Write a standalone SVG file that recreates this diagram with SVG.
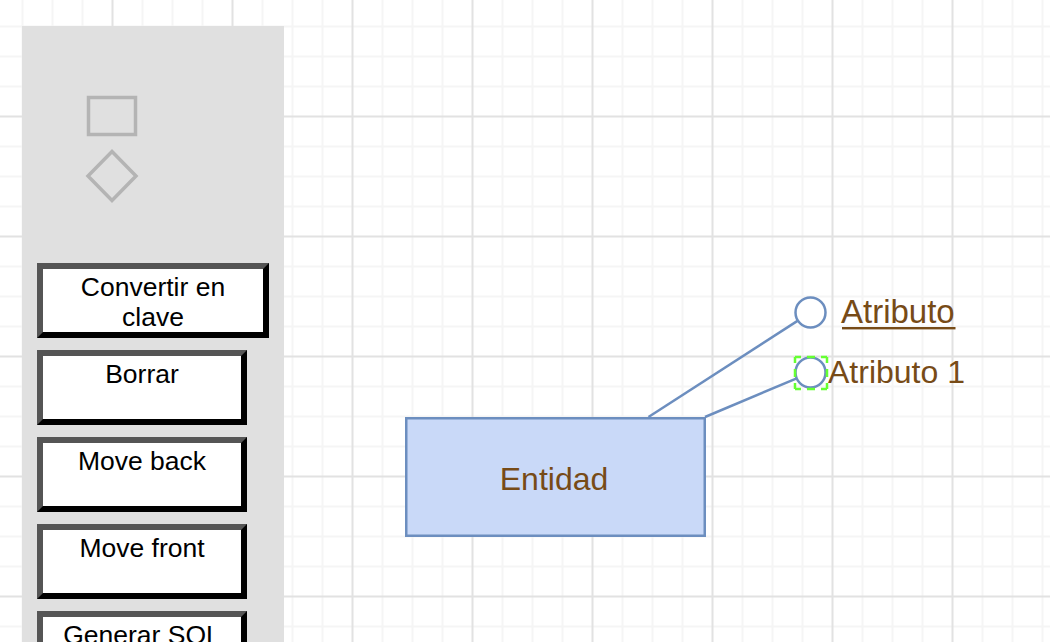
<svg xmlns="http://www.w3.org/2000/svg" width="1050" height="642" viewBox="0 0 1050 642">
<defs>
<style>
.minor{stroke:#f5f5f5;stroke-width:2;fill:none}
.major{stroke:#e2e2e2;stroke-width:2;fill:none}
.btn-dark{fill:#000}
.btn-light{fill:#555}
.btn-face{fill:#fff}
.btn-text{font-family:"Liberation Sans",Arial,sans-serif;font-size:26.5px;fill:#000;text-anchor:middle}
.lbl{font-family:"Liberation Sans",Arial,sans-serif;font-size:32px;fill:#774b17}
.conn{stroke:#6c8ebf;stroke-width:2.5;fill:none}
.attr{fill:#fff;stroke:#6c8ebf;stroke-width:2.5}
.sel{stroke:#66ff33;stroke-width:2.5;fill:none;stroke-dasharray:6 6 8 6 6 200}
.icon{fill:none;stroke:#b4b4b4;stroke-width:3.5}
</style>
</defs>
<rect width="1050" height="642" fill="#fff"/>
<g id="grid">
<path class="minor" d="M22.5 0V642M52.5 0V642M82.5 0V642M142.5 0V642M172.5 0V642M202.5 0V642M262.5 0V642M292.5 0V642M322.5 0V642M382.5 0V642M412.5 0V642M442.5 0V642M502.5 0V642M532.5 0V642M562.5 0V642M622.5 0V642M652.5 0V642M682.5 0V642M742.5 0V642M772.5 0V642M802.5 0V642M862.5 0V642M892.5 0V642M922.5 0V642M982.5 0V642M1012.5 0V642M1042.5 0V642M0 26.5H1050M0 56.5H1050M0 86.5H1050M0 146.5H1050M0 176.5H1050M0 206.5H1050M0 266.5H1050M0 296.5H1050M0 326.5H1050M0 386.5H1050M0 416.5H1050M0 446.5H1050M0 506.5H1050M0 536.5H1050M0 566.5H1050M0 626.5H1050"/>
<path class="major" d="M112.5 0V642M232.5 0V642M352.5 0V642M472.5 0V642M592.5 0V642M712.5 0V642M832.5 0V642M952.5 0V642M0 116.5H1050M0 236.5H1050M0 356.5H1050M0 476.5H1050M0 596.5H1050"/>
</g>
<g id="palette">
<rect x="22" y="26" width="262" height="616" fill="#e0e0e0"/>
<rect id="icon-entity" class="icon" x="88.5" y="97.5" width="47" height="37"/>
<polygon id="icon-relation" class="icon" points="112,151.5 136,176 112,200.5 88,176"/>
</g>
<g id="btn-convertir">
<rect class="btn-dark" x="37" y="263" width="232" height="75"/>
<polygon class="btn-light" points="37,263 269,263 263,269 43,269 43,332 37,338"/>
<rect class="btn-face" x="43" y="269" width="220" height="63"/>
<text class="btn-text" x="153" y="296">Convertir en</text>
<text class="btn-text" x="153" y="326">clave</text>
</g>
<g id="btn-borrar">
<rect class="btn-dark" x="37" y="350" width="210" height="75"/>
<polygon class="btn-light" points="37,350 247,350 241,356 43,356 43,419 37,425"/>
<rect class="btn-face" x="43" y="356" width="198" height="63"/>
<text class="btn-text" x="142" y="383">Borrar</text>
</g>
<g id="btn-move-back">
<rect class="btn-dark" x="37" y="437" width="210" height="75"/>
<polygon class="btn-light" points="37,437 247,437 241,443 43,443 43,506 37,512"/>
<rect class="btn-face" x="43" y="443" width="198" height="63"/>
<text class="btn-text" x="142" y="470">Move back</text>
</g>
<g id="btn-move-front">
<rect class="btn-dark" x="37" y="524" width="210" height="75"/>
<polygon class="btn-light" points="37,524 247,524 241,530 43,530 43,593 37,599"/>
<rect class="btn-face" x="43" y="530" width="198" height="63"/>
<text class="btn-text" x="142" y="557">Move front</text>
</g>
<g id="btn-generar-sql">
<rect class="btn-dark" x="37" y="611" width="210" height="75"/>
<polygon class="btn-light" points="37,611 247,611 241,617 43,617 43,680 37,686"/>
<rect class="btn-face" x="43" y="617" width="198" height="63"/>
<text class="btn-text" x="142" y="644">Generar SQL</text>
</g>
<g id="connectors">
<line class="conn" x1="648.5" y1="417" x2="797.9" y2="320.6"/>
<line class="conn" x1="705" y1="417" x2="796.7" y2="378.3"/>
</g>
<g id="entidad">
<rect x="406.25" y="418.25" width="298.5" height="117.5" fill="#c9d9f8" stroke="#6c8ebf" stroke-width="2.5"/>
<text class="lbl" x="554" y="489.5" text-anchor="middle">Entidad</text>
</g>
<g id="atributo">
<circle class="attr" cx="810.5" cy="312.5" r="15"/>
<text class="lbl" x="841" y="323" style="font-size:33px">Atributo</text>
<rect x="842" y="327" width="113.5" height="2.4" fill="#774b17"/>
</g>
<g id="atributo-1">
<circle class="attr" cx="810.5" cy="372.5" r="15"/>
<path class="sel" d="M795 357H827"/>
<path class="sel" d="M827 357V389"/>
<path class="sel" d="M827 389H795"/>
<path class="sel" d="M795 389V357"/>
<text class="lbl" x="828" y="383">Atributo 1</text>
</g>
</svg>
